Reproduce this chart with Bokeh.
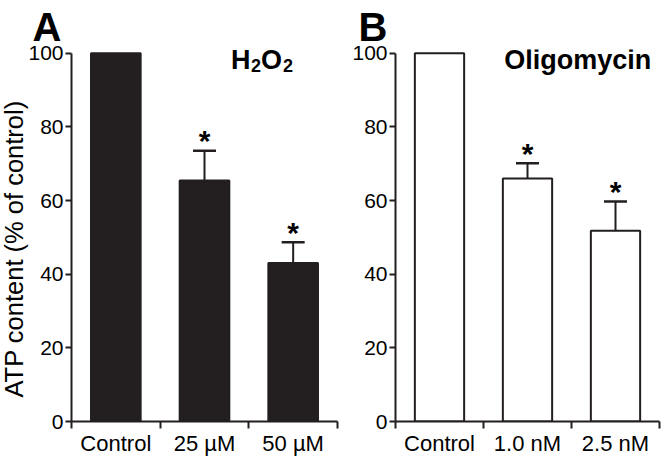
from bokeh.plotting import figure
from bokeh.models import (ColumnDataSource, Range1d, FixedTicker, Whisker, TeeHead, Label, Title)
from bokeh.layouts import row
from bokeh.core.properties import value
from bokeh.embed import file_html
from bokeh.resources import INLINE

# ---- data ----
categories_a = ["Control", "25 \u00b5M", "50 \u00b5M"]
values_a = [100.0, 65.4, 43.0]
errors_a = [0.0, 8.1, 5.7]
signif_a = ["", "*", "*"]

categories_b = ["Control", "1.0 nM", "2.5 nM"]
values_b = [100.0, 66.0, 51.8]
errors_b = [0.0, 4.1, 7.9]
signif_b = ["", "*", "*"]

y_ticks = [0, 20, 40, 60, 80, 100]

FONT = "Liberation Sans"
INK = "#231f20"
H = 458


def panel(cats, vals, errs, sig, fill, width, border_left, letter, letter_offset, ylabel):
    p = figure(width=width, height=H, output_backend="svg", toolbar_location=None,
               x_range=Range1d(0, len(cats)), y_range=Range1d(0, 101),
               min_border_top=49, min_border_left=border_left, min_border_right=2,
               min_border_bottom=35)
    p.outline_line_color = None
    p.grid.visible = False
    p.background_fill_color = "white"
    p.border_fill_color = "white"

    xs = [i + 0.5 for i in range(len(cats))]
    tops = [v + e for v, e in zip(vals, errs)]
    src = ColumnDataSource(dict(x=xs, top=vals, upper=tops, sig=sig))

    p.vbar(x="x", top="top", bottom=0, width=0.56, source=src,
           fill_color=fill, line_color=INK, line_width=2)

    has_err = ColumnDataSource(dict(x=[x for x, e in zip(xs, errs) if e > 0],
                                    lower=[v for v, e in zip(vals, errs) if e > 0],
                                    upper=[t for t, e in zip(tops, errs) if e > 0]))
    w = Whisker(base="x", lower="lower", upper="upper", source=has_err,
                line_color=INK, line_width=2, lower_head=None,
                upper_head=TeeHead(size=23, line_color=INK, line_width=2.5))
    p.add_layout(w)

    p.text(x="x", y="upper", text="sig", source=src, text_align="center",
           text_baseline="alphabetic", y_offset=-10, text_font=value(FONT),
           text_font_style="bold", text_font_size="30px", text_color="black")

    # axes
    xa = p.xaxis[0]
    xa.ticker = FixedTicker(ticks=xs, minor_ticks=list(range(len(cats) + 1)))
    xa.major_label_overrides = {x: c for x, c in zip(xs, cats)}
    xa.major_tick_in = 0
    xa.major_tick_out = 0
    xa.minor_tick_in = 0
    xa.minor_tick_out = 7
    xa.minor_tick_line_width = 2
    xa.minor_tick_line_color = INK
    xa.axis_line_width = 2
    xa.axis_line_color = INK
    xa.major_label_text_font = FONT
    xa.major_label_text_font_size = "22px"
    xa.major_label_text_color = "black"
    xa.major_label_standoff = 2

    ya = p.yaxis[0]
    ya.ticker = FixedTicker(ticks=y_ticks, minor_ticks=[])
    ya.bounds = (0, 100)
    ya.major_tick_in = 0
    ya.major_tick_out = 6
    ya.major_tick_line_width = 2
    ya.major_tick_line_color = INK
    ya.axis_line_width = 2
    ya.axis_line_color = INK
    ya.major_label_text_font = FONT
    ya.major_label_text_font_size = "21px"
    ya.major_label_text_color = "black"
    ya.major_label_standoff = 2

    if ylabel:
        p.add_layout(Title(text=ylabel, align="left", offset=24, standoff=-5,
                           text_line_height=0.8,
                           text_font=FONT, text_font_style="normal",
                           text_font_size="25.5px", text_color="black"), "left")

    p.add_layout(Title(text=letter, align="left", offset=letter_offset, standoff=2,
                       text_font=FONT, text_font_style="bold",
                       text_font_size="40px", text_color="black"), "above")
    return p


pa = panel(categories_a, values_a, errors_a, signif_a, INK, 339, 0, "A", -39,
           "ATP content (% of control)")
pb = panel(categories_b, values_b, errors_b, signif_b, "white", 322, 56, "B", -37, None)

# treatment labels (H2O2 with lowered, smaller subscripts)
sub_y = 96.6
base_y = 98.2
pa.add_layout(Label(x=1.80, y=base_y, text="H", text_font=FONT, text_font_style="bold",
                    text_font_size="27px", text_baseline="alphabetic", text_color="black"))
pa.add_layout(Label(x=1.80, y=sub_y, x_offset=20, text="2", text_font=FONT,
                    text_font_style="bold", text_font_size="18px",
                    text_baseline="alphabetic", text_color="black"))
pa.add_layout(Label(x=1.80, y=base_y, x_offset=30, text="O", text_font=FONT,
                    text_font_style="bold", text_font_size="27px",
                    text_baseline="alphabetic", text_color="black"))
pa.add_layout(Label(x=1.80, y=sub_y, x_offset=52, text="2", text_font=FONT,
                    text_font_style="bold", text_font_size="18px",
                    text_baseline="alphabetic", text_color="black"))
pb.add_layout(Label(x=2.07, y=base_y, text="Oligomycin", text_font=FONT,
                    text_font_style="bold", text_font_size="27px", text_align="center",
                    text_baseline="alphabetic", text_color="black"))

layout = row(pa, pb)
open("out.html", "w").write(file_html(layout, INLINE))
